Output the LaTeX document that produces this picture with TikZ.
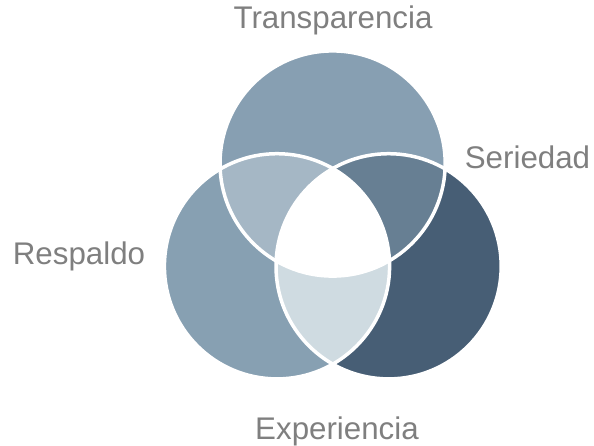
\documentclass[tikz,border=0pt]{standalone}
\usepackage{fontspec}
\setmainfont{Liberation Sans}
\definecolor{cTop}{HTML}{879FB2}
\definecolor{cLeft}{HTML}{87A0B2}
\definecolor{cRight}{HTML}{475E75}
\definecolor{cTL}{HTML}{A5B7C5}
\definecolor{cTR}{HTML}{677F93}
\definecolor{cLR}{HTML}{CFDBE1}
\definecolor{cText}{HTML}{7F7F7F}
\begin{document}
\begin{tikzpicture}[x=1pt,y=-1pt,
  lbl/.style={anchor=base,text=cText,font=\fontsize{31.3}{36}\selectfont,inner sep=0pt},
  outline/.style={draw=white,line width=3.5pt}]
\useasboundingbox (0,0) rectangle (594,446);
\def\R{112.6}
\coordinate (T) at (332.6,163.5);
\coordinate (L) at (277,266.3);
\coordinate (Rt) at (388.6,266.3);
% base fills
\fill[cTop] (T) circle (\R);
\fill[cLeft] (L) circle (\R);
\fill[cRight] (Rt) circle (\R);
% pairwise
\begin{scope}\clip (T) circle (\R); \fill[cTL] (L) circle (\R); \end{scope}
\begin{scope}\clip (T) circle (\R); \fill[cTR] (Rt) circle (\R); \end{scope}
\begin{scope}\clip (L) circle (\R); \fill[cLR] (Rt) circle (\R); \end{scope}
\begin{scope}\clip (T) circle (\R); \clip (L) circle (\R); \fill[white] (Rt) circle (\R); \end{scope}
% outlines
\draw[outline] (T) circle (\R);
\draw[outline] (L) circle (\R);
\draw[outline] (Rt) circle (\R);
% labels
\node[lbl] (tTop) at (333,28.6) {Transparencia};
\node[lbl] (tRight) at (527.5,169) {Seriedad};
\node[lbl] (tLeft) at (79,264.2) {Respaldo};
\node[lbl] (tBottom) at (337,439) {Experiencia};
\end{tikzpicture}
\end{document}
